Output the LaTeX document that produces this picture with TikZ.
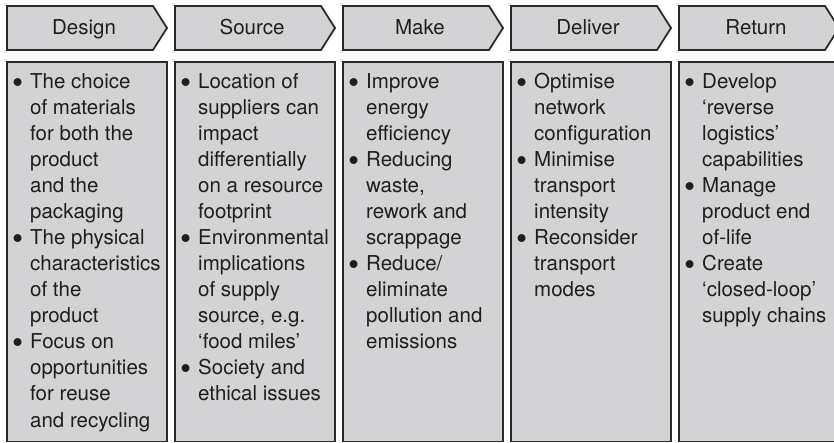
\documentclass[tikz,border=0pt]{standalone}
\usepackage{fontspec}
\usepackage{graphicx}
\setmainfont{TeX Gyre Heros}
\definecolor{boxfill}{HTML}{D3D3D5}
\definecolor{boxline}{HTML}{2A2A2A}
\definecolor{txt}{HTML}{1E1E1E}
\newcommand{\bul}{\makebox[0pt][r]{\raisebox{-5bp}{\scalebox{1.55}{\textbullet}}\hspace{7bp}}}
\newcommand{\coltext}[1]{\parbox[t]{150bp}{\raggedright\fontsize{20.5bp}{26bp}\selectfont #1}}
\tikzset{
  bodybox/.style={draw=boxline,line width=1.8bp,fill=boxfill},
  headbox/.style={draw=boxline,line width=1.8bp,fill=boxfill,line join=miter},
  headtext/.style={anchor=base,inner sep=0pt,text=txt,font=\fontsize{20.5bp}{24bp}\selectfont},
  bodytext/.style={anchor=base west,inner sep=0pt,text=txt}
}
\begin{document}
\begin{tikzpicture}[x=1bp,y=-1bp]
\useasboundingbox (0,0) rectangle (834,443);
\clip (0,0) rectangle (834,443);
\foreach \x/\lab/\nm in {7/Design/design,175/Source/source,343/Make/make,511/Deliver/deliver,679/Return/return}{
  \draw[headbox] (\x,6) -- ++(146,0) -- ++(14,22) -- ++(-14,22) -- ++(-146,0) -- cycle;
  \node[headtext] (h\nm) at (\x+77,35) {\lab};
  \draw[bodybox] (\x,62) rectangle ++(160,379.5);
}
\node[bodytext] (tdesign) at (30,89) {\coltext{%
\bul The choice\\ of materials\\ for both the\\ product\\ and the\\ packaging\\
\bul The physical\\ characteristics\\ of the\\ product\\
\bul Focus on\\ opportunities\\ for reuse\\ and recycling}};
\node[bodytext] (tsource) at (198,89) {\coltext{%
\bul Location of\\ suppliers can\\ impact\\ differentially\\ on a resource\\ footprint\\
\bul Environmental\\ implications\\ of supply\\ source, e.g.\\ ‘food miles’\\
\bul Society and\\ ethical issues}};
\node[bodytext] (tmake) at (366,89) {\coltext{%
\bul Improve\\ energy\\ efficiency\\
\bul Reducing\\ waste,\\ rework and\\ scrappage\\
\bul Reduce/\\ eliminate\\ pollution and\\ emissions}};
\node[bodytext] (tdeliver) at (534,89) {\coltext{%
\bul Optimise\\ network\\ configuration\\
\bul Minimise\\ transport\\ intensity\\
\bul Reconsider\\ transport\\ modes}};
\node[bodytext] (treturn) at (702,89) {\coltext{%
\bul Develop\\ ‘reverse\\ logistics’\\ capabilities\\
\bul Manage\\ product end\\ of-life\\
\bul Create\\ ‘closed-loop’\\ supply chains}};
\end{tikzpicture}
\end{document}
